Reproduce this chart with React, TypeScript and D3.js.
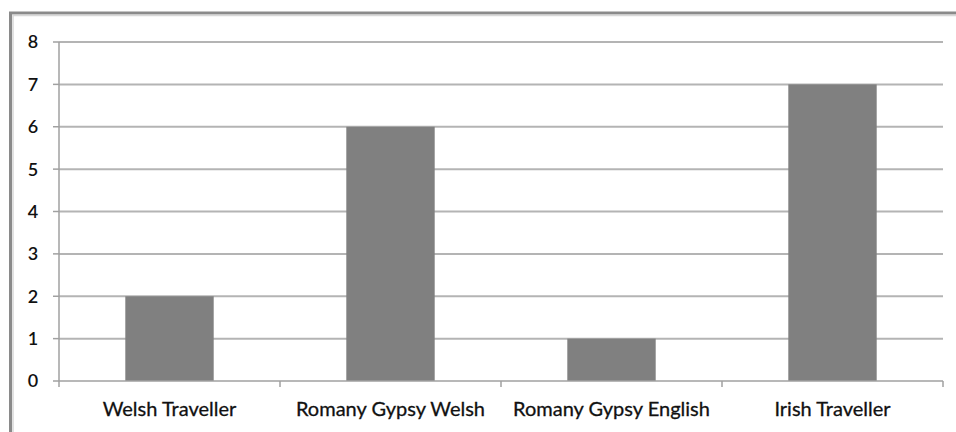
import React from "react";
import * as d3 from "d3";

const categories = ["Welsh Traveller", "Romany Gypsy Welsh", "Romany Gypsy English", "Irish Traveller"];
const values = [2, 6, 1, 7];
const yTicks = [0, 1, 2, 3, 4, 5, 6, 7, 8];

export default function App() {
  const W = 956, H = 432;
  const x0 = 59, x1 = 943, yTop = 42, yBot = 381;
  const x = d3.scaleBand<string>().domain(categories).range([x0, x1]).paddingInner(0.6).paddingOuter(0.3);
  const xb = d3.scaleBand<string>().domain(categories).range([x0, x1]);
  const y = d3.scaleLinear().domain([0, 8]).range([yBot, yTop]);
  const font = "Lato, 'Open Sans', sans-serif";
  return (
    <svg width={W} height={H} style={{ position: "absolute", left: 0, top: 0, background: "#fff" }}>
      <path d={`M10.5,${H} V13 H${W}`} fill="none" stroke="#8a8a8a" strokeWidth={3} />
      <path d={`M13,${H} V15.5 H${W}`} fill="none" stroke="#d8d8d8" strokeWidth={1.5} />
      {yTicks.map((t) => (
        <g key={t}>
          {t > 0 && <line x1={x0} x2={x1} y1={y(t)} y2={y(t)} stroke="#b4b4b4" strokeWidth={2} />}
          <line x1={53} x2={x0} y1={y(t)} y2={y(t)} stroke="#a0a0a0" strokeWidth={1.5} />
          <text x={33} y={y(t)} dy="0.36em" textAnchor="middle" fontFamily={font} fontSize={18} fontWeight={600} fill="#111">{t}</text>
        </g>
      ))}
      {categories.map((c, i) => (
        <rect key={c} x={x(c)} y={y(values[i])} width={x.bandwidth()} height={yBot - y(values[i])} fill="#808080" />
      ))}
      <line x1={x0} x2={x0} y1={yTop} y2={yBot} stroke="#a0a0a0" strokeWidth={1.5} />
      <line x1={x0} x2={x1} y1={yBot} y2={yBot} stroke="#a0a0a0" strokeWidth={1.5} />
      {[...categories.map((c) => xb(c) as number), x1].map((v, i) => (
        <line key={i} x1={v} x2={v} y1={yBot} y2={yBot + 6} stroke="#a0a0a0" strokeWidth={1.5} />
      ))}
      {categories.map((c) => (
        <text key={c} x={(xb(c) as number) + xb.bandwidth() / 2} y={409} dy="0.35em" textAnchor="middle" fontFamily={font} fontSize={20} fontWeight={400} fill="#111" stroke="#111" strokeWidth={0.3}>{c}</text>
      ))}
    </svg>
  );
}
